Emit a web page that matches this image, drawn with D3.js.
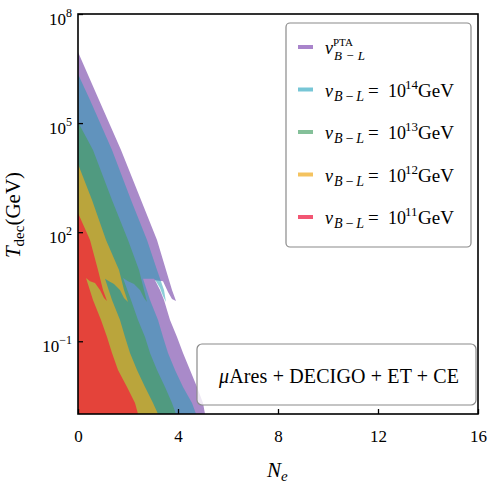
<!DOCTYPE html>
<html><head><meta charset="utf-8">
<script src="https://cdn.jsdelivr.net/npm/d3@7"></script>
<style>
body{margin:0;background:#fff}
text{font-family:"Liberation Serif","DejaVu Serif",serif;fill:#000}
</style>
</head><body>
<svg id="c" width="488" height="487"></svg>
<script>
// ---- data (N_e, T_dec in GeV) ----
const xTicks = [0, 4, 8, 12, 16];
const yTicks = [1e-1, 1e2, 1e5, 1e8];
const yTickExps = ["−1", "2", "5", "8"];
const xDomain = [0, 16];
const yDomain = [1e-3, 1e8];
const legendExps = ["PTA", "14", "13", "12", "11"];

const ptaRegion = [[0,9.0e6],[0.84,4.3e5],[1.72,1.82e4],[2.52,770],[3.16,61],[3.52,9.1],[3.76,2.57],[3.92,1.28],[3.76,1.46],[3.6,2.26],[3.4,4.5],[3.08,4.8],[3.28,2.57],[3.44,1.36],[3.68,0.385],[3.96,0.131],[4.2,0.0476],[4.48,0.0162],[4.76,0.0055],[5.0,0.0020],[5.08,0.001]];
const v14Region = [[0,2.24e6],[0.48,4.3e5],[1.36,1.82e4],[2.12,770],[2.76,61],[3.16,9.1],[3.44,2.57],[3.52,1.2],[3.4,1.76],[3.28,2.9],[3.12,4.5],[3.04,5.2],[2.6,5.2],[2.88,1.36],[3.2,0.385],[3.4,0.131],[3.6,0.0476],[3.88,0.0162],[4.2,0.0055],[4.56,0.0020],[4.72,0.001]];
const v13Region = [[0,1.07e5],[0.6,1.82e4],[1.36,770],[2.0,61],[2.44,9.1],[2.64,2.57],[2.76,1.2],[2.64,1.55],[2.48,2.57],[2.24,3.76],[2.0,4.5],[1.8,5.5],[2.12,1.36],[2.4,0.385],[2.68,0.131],[2.88,0.0476],[3.16,0.0162],[3.48,0.0055],[3.76,0.0020],[3.92,0.001]];
const v12Region = [[0,7.5e3],[0.56,770],[1.12,61],[1.64,9.1],[1.84,2.57],[2.0,1.2],[1.84,1.55],[1.68,2.57],[1.44,3.76],[1.24,4.5],[1.08,5.2],[1.36,1.36],[1.68,0.385],[1.88,0.131],[2.08,0.0476],[2.36,0.0162],[2.68,0.0055],[3.0,0.0020],[3.2,0.001]];
const v11Region = [[0,337],[0.48,61],[0.8,9.1],[1.0,2.57],[1.16,1.28],[1.04,1.55],[0.88,2.57],[0.68,4.0],[0.48,4.5],[0.32,5.5],[0.6,1.36],[0.92,0.385],[1.16,0.131],[1.36,0.0476],[1.6,0.0162],[1.96,0.0055],[2.28,0.0020],[2.4,0.001]];

// ---- drawing ----
const svg = d3.select("#c");
const L = 78, R = 478, T = 14, B = 414;
const x = d3.scaleLinear().domain(xDomain).range([L, R]);
const y = d3.scaleLog().domain(yDomain).range([B, T]);

svg.append("defs").append("clipPath").attr("id", "clip")
  .append("rect").attr("x", L).attr("y", T).attr("width", R - L).attr("height", B - T);

const regions = [
  {data: ptaRegion, fill: "#a98ac9", op: 1},
  {data: v14Region, fill: "rgb(25,155,178)", op: 0.5},
  {data: v13Region, fill: "#509a80", op: 1},
  {data: v12Region, fill: "#baa53c", op: 1},
  {data: v11Region, fill: "#e4433a", op: 1}
];
const line = d3.line().x(d => x(d[0])).y(d => y(d[1]));
const gr = svg.append("g").attr("clip-path", "url(#clip)");
regions.forEach(r => {
  gr.append("path")
    .attr("d", line(r.data.concat([[xDomain[0], yDomain[0]]])) + "Z")
    .attr("fill", r.fill).attr("fill-opacity", r.op);
});

// axes
const gx = svg.append("g").attr("transform", `translate(0,${B})`)
  .call(d3.axisBottom(x).tickValues(xTicks).tickSize(-5).tickPadding(16).tickFormat(d3.format("d")));
gx.attr("font-size", 17).attr("font-family", '"Liberation Serif",serif');
gx.select(".domain").remove();
gx.selectAll("line").attr("stroke-width", 1.3);

const gy = svg.append("g").attr("transform", `translate(${L},0)`)
  .call(d3.axisLeft(y).tickValues(yTicks).tickSize(-5).tickPadding(6).tickFormat(() => "10"));
gy.attr("font-size", 17).attr("font-family", '"Liberation Serif",serif');
gy.select(".domain").remove();
gy.selectAll("line").attr("stroke-width", 1.3);
gy.selectAll(".tick text").attr("dy", 10).each(function(d, i) {
  d3.select(this).append("tspan").attr("font-size", 12).attr("dy", -8).text(yTickExps[i]);
});

svg.append("rect").attr("x", L).attr("y", T).attr("width", R - L).attr("height", B - T)
  .attr("fill", "none").attr("stroke", "#000").attr("stroke-width", 1.6);

// axis labels
const xl = svg.append("text").attr("x", 267).attr("y", 477).attr("font-size", 21);
xl.append("tspan").attr("font-style", "italic").text("N");
xl.append("tspan").attr("font-style", "italic").attr("font-size", 15).attr("dy", 4).text("e");

const yl = svg.append("text").attr("transform", "translate(20,215) rotate(-90)")
  .attr("text-anchor", "middle").attr("font-size", 21);
yl.append("tspan").attr("font-style", "italic").text("T");
yl.append("tspan").attr("font-size", 15).attr("dy", 4).text("dec");
yl.append("tspan").attr("dy", -4).text("(GeV)");

// legend
svg.append("rect").attr("x", 286).attr("y", 23).attr("width", 185).attr("height", 224)
  .attr("rx", 4).attr("fill", "#fff").attr("fill-opacity", 0.8)
  .attr("stroke", "#8a8a8a").attr("stroke-width", 1.2);
const legendColors = ["#9a6fc2", "#5fbccf", "#6fb587", "#f2b944", "#f0385a"];
legendExps.forEach((e, i) => {
  const cy = 47 + i * 42.5;
  svg.append("line").attr("x1", 298).attr("x2", 313).attr("y1", cy).attr("y2", cy)
    .attr("stroke", legendColors[i]).attr("stroke-width", 4).attr("stroke-opacity", 0.85);
  const yb = cy + 7;
  svg.append("text").attr("x", 325).attr("y", yb).attr("font-size", 18).attr("font-style", "italic").text("v");
  if (i === 0) {
    svg.append("text").attr("x", 333).attr("y", yb - 8).attr("font-size", 11).text(e);
    svg.append("text").attr("x", 334).attr("y", yb + 6).attr("font-size", 13).attr("font-style", "italic")
      .attr("textLength", 31).attr("lengthAdjust", "spacing").text("B−L");
  } else {
    svg.append("text").attr("x", 334).attr("y", yb + 4).attr("font-size", 14).attr("font-style", "italic")
      .attr("textLength", 30).attr("lengthAdjust", "spacing").text("B−L");
    svg.append("text").attr("x", 368).attr("y", yb).attr("font-size", 19).text("=");
    svg.append("text").attr("x", 388).attr("y", yb).attr("font-size", 18).text("10");
    svg.append("text").attr("x", 405).attr("y", yb - 8).attr("font-size", 13).text(e);
    svg.append("text").attr("x", 418).attr("y", yb).attr("font-size", 18)
      .attr("textLength", 36).attr("lengthAdjust", "spacingAndGlyphs").text("GeV");
  }
});

// detector annotation
svg.append("rect").attr("x", 197).attr("y", 344).attr("width", 279).attr("height", 61)
  .attr("rx", 5).attr("fill", "#fff").attr("fill-opacity", 0.8)
  .attr("stroke", "#8a8a8a").attr("stroke-width", 1.2);
const at = svg.append("text").attr("x", 219).attr("y", 383).attr("font-size", 20)
  .attr("textLength", 240).attr("lengthAdjust", "spacing");
at.append("tspan").attr("font-style", "italic").text("μ");
at.append("tspan").text("Ares + DECIGO + ET + CE");
</script>
</body></html>
